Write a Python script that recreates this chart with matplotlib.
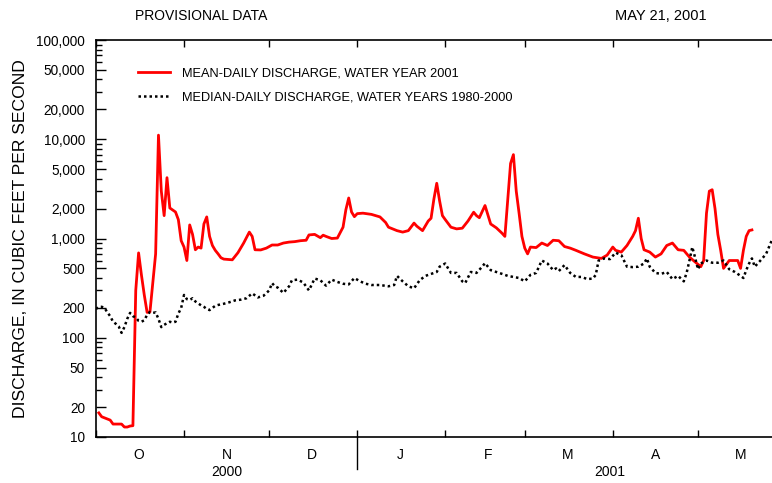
import numpy as np
import pandas as pd
import matplotlib
matplotlib.use("Agg")
import matplotlib.pyplot as plt
import matplotlib.dates as mdates
from matplotlib.ticker import LogLocator, FixedLocator, FuncFormatter, NullFormatter

plt.rcParams['font.family'] = ['Liberation Sans', 'DejaVu Sans']

# Початок водного року
start = pd.Timestamp("2000-10-01")

# Середньодобові витрати, водний рік 2001 (день від 1 жовтня, куб. фут/с)
mean_days = [1, 2, 4, 5, 6, 9, 10, 11, 12, 13, 14, 15, 16, 17, 18, 19, 20, 21, 22,
             23, 24, 25, 26, 27, 28, 29, 30, 31, 32, 33, 34, 35, 36, 37, 38, 39, 40,
             41, 42, 43, 44, 45, 48, 50, 52, 54, 55, 56, 58, 60, 62, 64, 66, 68, 70,
             72, 74, 75, 77, 79, 80, 81, 83, 85, 87, 88, 89, 90, 91, 92, 94, 97, 100,
             102, 103, 106, 108, 110, 112, 113, 115, 117, 118, 119, 120, 121, 122,
             123, 125, 127, 129, 131, 133, 134, 135, 137, 139, 141, 143, 144, 145,
             146, 147, 148, 149, 150, 151, 152, 153, 155, 157, 159, 161, 163, 165,
             167, 169, 172, 175, 178, 180, 182, 183, 185, 187, 189, 190, 191, 192,
             193, 195, 197, 199, 201, 203, 205, 207, 209, 211, 213, 214, 215, 216,
             217, 218, 219, 220, 221, 223, 226, 227, 228, 229, 230, 231]
mean_q = [17.5, 16, 15.2, 14.8, 13.5, 13.5, 12.6, 12.6, 12.9, 13, 300, 716, 429,
          270, 180, 182, 360, 700, 11000, 3000, 1700, 4100, 2030, 1940, 1850, 1550,
          950, 820, 600, 1370, 1100, 770, 820, 800, 1400, 1650, 1050, 850, 760, 700,
          640, 620, 610, 720, 900, 1160, 1050, 770, 767, 800, 860, 860, 900, 920,
          930, 950, 960, 1086, 1100, 1020, 1080, 1050, 1000, 1010, 1300, 1950, 2560,
          1850, 1660, 1780, 1800, 1750, 1650, 1450, 1300, 1200, 1160, 1200, 1430,
          1330, 1200, 1500, 1600, 2500, 3600, 2400, 1700, 1550, 1300, 1250, 1270,
          1500, 1840, 1700, 1620, 2150, 1400, 1280, 1130, 1050, 2450, 5700, 7000,
          3000, 1800, 1050, 800, 700, 820, 810, 900, 850, 960, 950, 830, 800, 760,
          700, 650, 630, 680, 820, 760, 730, 850, 1050, 1200, 1600, 1000, 770, 730,
          650, 700, 850, 900, 770, 760, 650, 580, 520, 600, 1800, 3000, 3100, 2000,
          1100, 760, 500, 600, 600, 500, 760, 1050, 1200, 1220]

# Медіанні добові витрати, водні роки 1980-2000
median_days = [0, 1, 2, 3, 4, 5, 6, 7, 8, 9, 10, 11, 12, 13, 14, 15, 16, 17, 18, 19,
               20, 21, 22, 23, 24, 25, 26, 27, 28, 29, 30, 31, 32, 33, 34, 35, 36, 37,
               38, 39, 40, 41, 42, 43, 45, 47, 49, 51, 53, 55, 57, 59, 61, 62, 63, 64,
               66, 68, 69, 71, 73, 75, 77, 79, 81, 83, 85, 87, 89, 91, 93, 95, 97, 100,
               103, 105, 106, 108, 110, 112, 114, 116, 118, 120, 121, 123, 124, 125,
               127, 129, 130, 132, 134, 136, 137, 139, 141, 143, 145, 147, 149, 151,
               153, 155, 157, 159, 161, 162, 163, 165, 167, 169, 171, 173, 175, 176,
               177, 179, 181, 183, 185, 187, 189, 191, 193, 194, 195, 197, 199, 201,
               203, 205, 207, 208, 209, 210, 211, 212, 213, 215, 217, 219, 221, 223,
               225, 227, 228, 229, 230, 231, 232, 234, 236, 238, 239]
median_q = [195, 205, 205, 200, 180, 165, 145, 138, 130, 112, 128, 155, 178, 165,
            160, 148, 145, 150, 170, 182, 178, 180, 155, 128, 135, 140, 145, 142, 145,
            175, 200, 270, 245, 240, 250, 232, 222, 212, 205, 195, 190, 200, 210, 214,
            220, 228, 238, 242, 250, 280, 255, 265, 300, 355, 330, 320, 283, 330, 380,
            385, 360, 300, 395, 380, 335, 385, 365, 350, 345, 400, 370, 350, 340, 340,
            330, 340, 420, 370, 330, 315, 380, 420, 440, 460, 520, 560, 500, 450, 450,
            370, 355, 460, 450, 520, 565, 480, 460, 440, 420, 410, 400, 370, 430, 450,
            600, 560, 480, 500, 470, 540, 450, 410, 410, 390, 395, 430, 600, 630, 620,
            720, 680, 520, 515, 520, 560, 630, 520, 450, 440, 460, 390, 420, 370, 450,
            600, 820, 640, 490, 560, 600, 570, 570, 600, 490, 460, 420, 400, 480, 560,
            630, 520, 600, 700, 960, 1000]

y_ticks = [10, 20, 50, 100, 200, 500, 1000, 2000, 5000, 10000, 20000, 50000, 100000]
month_letters = ["O", "N", "D", "J", "F", "M", "A", "M"]
legend_labels = ["MEAN-DAILY DISCHARGE, WATER YEAR 2001",
                 "MEDIAN-DAILY DISCHARGE, WATER YEARS 1980-2000"]

mean_dates = start + pd.to_timedelta(mean_days, unit="D")
median_dates = start + pd.to_timedelta(median_days, unit="D")

fig = plt.figure(figsize=(7.72, 4.83), dpi=100)
ax = fig.add_axes([96 / 772, 46 / 483, 690 / 772, 397 / 483])

ax.plot(mean_dates, mean_q, color="#ff0000", lw=2.0, label=legend_labels[0])
ax.plot(median_dates, median_q, color="black", lw=1.8,
        linestyle=(0, (1, 1.2)), label=legend_labels[1])

ax.set_yscale("log")
ax.set_ylim(10, 100000)
ax.set_xlim(start, pd.Timestamp("2001-06-01"))

# Вісь Y
ax.yaxis.set_major_locator(FixedLocator(y_ticks))
ax.yaxis.set_major_formatter(FuncFormatter(lambda v, p: f"{int(v):,}"))
ax.yaxis.set_minor_locator(LogLocator(base=10, subs=np.arange(1, 10)))
ax.yaxis.set_minor_formatter(NullFormatter())
ax.tick_params(axis="y", which="major", direction="in", length=7, width=1,
               labelsize=9.8, pad=8)
ax.tick_params(axis="y", which="minor", direction="in", length=4, width=1)
ax.set_ylabel("DISCHARGE, IN CUBIC FEET PER SECOND", fontsize=12.6, labelpad=6)

# Вісь X: межі місяців і підписи посередині
ax.xaxis.set_major_locator(mdates.MonthLocator())
ax.xaxis.set_major_formatter(NullFormatter())
ax.xaxis.set_minor_locator(mdates.MonthLocator(bymonthday=16))
ax.xaxis.set_minor_formatter(
    FuncFormatter(lambda v, p: month_letters[(mdates.num2date(v).month - 10) % 12]))
ax.tick_params(axis="x", which="major", direction="in", length=5, width=1,
               top=True)
ax.tick_params(axis="x", which="minor", length=0, labelsize=10, pad=8)

for s in ax.spines.values():
    s.set_linewidth(1.2)

# Роздільник років і підписи років
trans = ax.get_xaxis_transform()
jan1 = mdates.date2num(pd.Timestamp("2001-01-01"))
ax.plot([jan1, jan1], [0, -0.08], color="black", lw=1, transform=trans,
        clip_on=False)
ax.text(mdates.date2num(pd.Timestamp("2000-11-16")), -0.087, "2000",
        transform=trans, ha="center", va="center", fontsize=10)
ax.text(mdates.date2num(pd.Timestamp("2001-03-31")), -0.087, "2001",
        transform=trans, ha="center", va="center", fontsize=10)

ax.legend(loc="upper left", bbox_to_anchor=(0.061, 0.93), frameon=False,
          fontsize=9.2, handlelength=2.5, handletextpad=0.95, labelspacing=0.9,
          borderpad=0, borderaxespad=0)

fig.text(201 / 772, 1 - 16 / 483, "PROVISIONAL DATA", ha="center", va="center",
         fontsize=10)
fig.text(661 / 772, 1 - 16 / 483, "MAY 21, 2001", ha="center", va="center",
         fontsize=10.5)

fig.savefig("out.png", dpi=100)
